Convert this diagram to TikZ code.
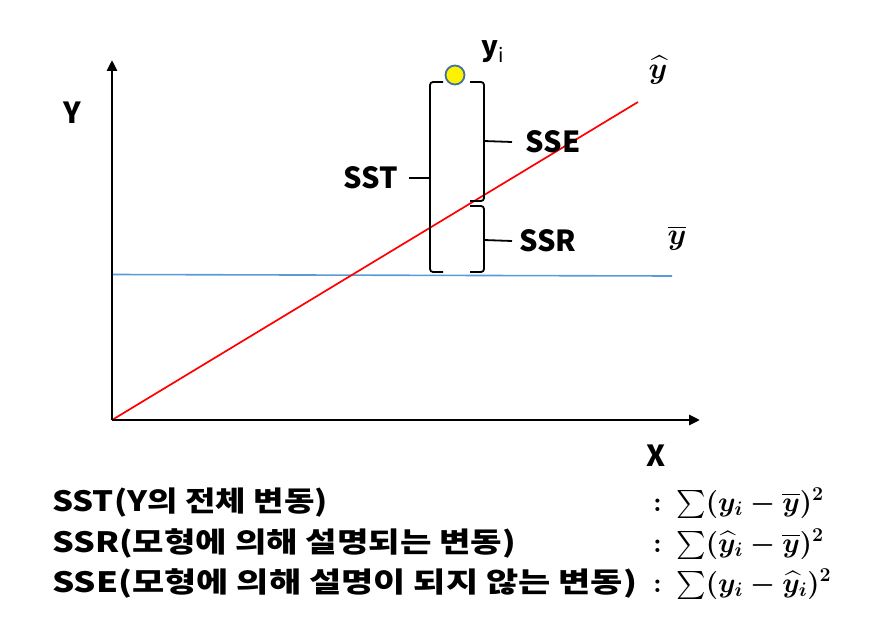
\RequirePackage{fix-cm}
\documentclass[tikz,border=0pt]{standalone}
\usepackage{amsmath,amssymb}
\usepackage{graphicx}
\usepackage{fontspec}
\setsansfont{Noto Sans CJK KR}
\usetikzlibrary{positioning,arrows.meta}

\definecolor{meanblue}{RGB}{91,155,213}
\definecolor{dotedge}{RGB}{65,113,156}

\newcommand{\widerow}[2][1.22]{\scalebox{#1}[1]{#2}}

\tikzset{
  axis/.style={line width=2.8pt, -{Triangle[length=11pt,width=10pt]}},
  fitline/.style={red, line width=1.7pt},
  meanline/.style={meanblue, line width=1.6pt},
  brace/.style={line width=1.8pt, rounded corners=3pt},
  tick/.style={line width=1.8pt},
  lab/.style={font=\sffamily\bfseries\fontsize{29}{32}\selectfont, inner sep=0pt},
  row/.style={font=\sffamily\bfseries\fontsize{28}{32}\selectfont, inner sep=0pt, anchor=base west},
  formula/.style={font=\fontsize{28}{32}\selectfont\boldmath, inner sep=0pt, anchor=base west},
  obs/.style={circle, draw=dotedge, fill=yellow, line width=1.8pt, minimum size=19pt, inner sep=0pt}
}

\begin{document}
\begin{tikzpicture}[x=1pt,y=-1pt]
    \useasboundingbox (0,0) rectangle (878,634);
    % axes
    \coordinate (O) at (112,420);
    \coordinate (ytip) at (112,60);
    \coordinate (xtip) at (700,420);
    \draw[meanline] (112,274.5) coordinate (m0) -- (672,276) coordinate (m1);
    \draw[fitline] (O) -- (638,102) coordinate (r1);
    \draw[axis] (O) -- (ytip);
    \draw[axis] (O) -- (xtip);
    \node[lab] (Ylab) at (72,113) {Y};
    \node[lab] (Xlab) at (656,456) {X};
    \node (yhat) at (658,70) {\fontsize{30}{34}\selectfont$\boldsymbol{\widehat{y}}$};
    \node (ybar) at (677,238) {\fontsize{30}{34}\selectfont$\boldsymbol{\overline{y}}$};
    % observation
    \node[obs] (yi) at (455,75) {};
    \node[font=\sffamily\bfseries\fontsize{28}{30}\selectfont] (yilab) at (493,52) {y\textsubscript{\mdseries i}};
    % brackets
    \draw[brace] (443,82) -- (430,82) -- (430,272) -- (443,272);
    \draw[brace] (470,82) -- (484,82) -- (484,201) -- (470,201);
    \draw[brace] (470,206) -- (484,206) -- (484,272) -- (470,272);
    \node[lab] (sstlab) at (371,178) {SST};
    \node[lab] (sselab) at (553,142) {SSE};
    \node[lab] (ssrlab) at (548,241) {SSR};
    \coordinate (t1) at (430,178);
    \coordinate (t2) at (484,141);
    \coordinate (t3) at (484,240);
    \draw[tick] (t1) -- (sstlab.east -| 409,0);
    \draw[tick] (t2) -- (sselab.west -| 512,0);
    \draw[tick] (t3) -- (ssrlab.west -| 512,0);
    % legend
    \node[row] (sst) at (52,511) {\widerow[1.18]{SST(Y의 전체 변동)}};
    \node[row] (ssr) at (52,552) {\widerow[1.22]{SSR(모형에 의해 설명되는 변동)}};
    \node[row] (sse) at (52,592) {\widerow[1.25]{SSE(모형에 의해 설명이 되지 않는 변동)}};
    \node[formula] (fsst) at (653,511) {$\mathord{:}\;\sum(y_i-\overline{y})^2$};
    \node[formula] (fssr) at (653,552) {$\mathord{:}\;\sum(\widehat{y}_i-\overline{y})^2$};
    \node[formula] (fsse) at (653,592) {$\mathord{:}\;\sum(y_i-\widehat{y}_i)^2$};
\end{tikzpicture}
\end{document}
